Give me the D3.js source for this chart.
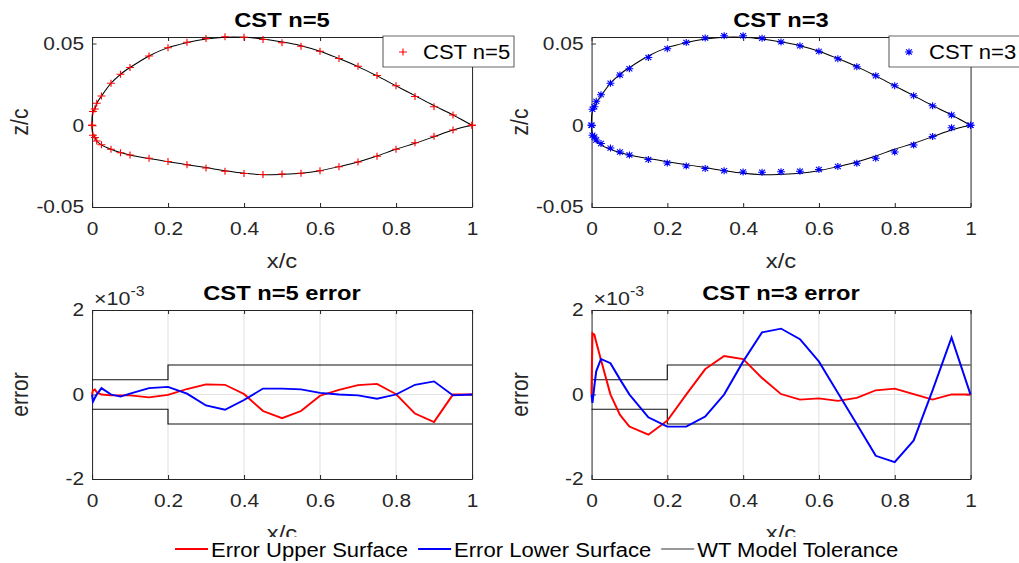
<!DOCTYPE html>
<html>
<head>
<meta charset="utf-8">
<script src="https://cdn.jsdelivr.net/npm/d3@7"></script>
<style>
body { margin: 0; background: #fff; }
svg { display: block; }
</style>
</head>
<body>
<div id="chart"></div>
<script>
// chordwise stations (x/c)
var xStations = [0, 0.0025, 0.0075, 0.0125, 0.025, 0.05, 0.075, 0.1, 0.15,
  0.2, 0.25, 0.3, 0.35, 0.4, 0.45, 0.5, 0.55, 0.6, 0.65, 0.7, 0.75, 0.8, 0.85, 0.9, 0.95, 1];

// original airfoil (z/c)
var zUpper = [0, 0.0083, 0.0099, 0.0134, 0.0179, 0.0257, 0.0312, 0.0353, 0.0424,
  0.0475, 0.0506, 0.0528, 0.0539, 0.0539, 0.0528, 0.0510, 0.0487, 0.0453, 0.0408, 0.0359, 0.0302, 0.0241, 0.0181, 0.0120, 0.0063, 0];
var zLower = [0, -0.0059, -0.0074, -0.0096, -0.0120, -0.0147, -0.0167, -0.0182, -0.0204,
  -0.0223, -0.0241, -0.0259, -0.0278, -0.0294, -0.0302, -0.0300, -0.0294, -0.0278, -0.0253, -0.0225, -0.0188, -0.0147, -0.0110, -0.0070, -0.0029, 0];

// fit errors, in units of 1e-3
var errUpper5 = [0, 0.10, 0.12, 0.05, 0.0, -0.02, -0.02, -0.02, -0.07,
  -0.01, 0.13, 0.24, 0.23, 0.01, -0.39, -0.56, -0.39, -0.03, 0.11, 0.22, 0.25, 0.01, -0.45, -0.65, 0, 0];
var errLower5 = [0, -0.17, -0.08, 0.0, 0.15, 0.0, -0.05, 0.02, 0.15,
  0.18, 0.02, -0.26, -0.36, -0.13, 0.14, 0.14, 0.12, 0.04, 0.0, -0.02, -0.10, 0.0, 0.23, 0.31, -0.02, 0];
var errUpper3 = [0, 1.45, 1.42, 1.24, 0.82, 0.0, -0.48, -0.76, -0.95,
  -0.62, 0.0, 0.6, 0.91, 0.84, 0.39, 0.01, -0.12, -0.09, -0.15, -0.08, 0.10, 0.14, 0.01, -0.12, 0, 0];
var errLower3 = [0, -0.2, 0.2, 0.55, 0.84, 0.74, 0.36, 0.0, -0.54,
  -0.76, -0.76, -0.52, 0.0, 0.78, 1.47, 1.56, 1.31, 0.78, 0.04, -0.70, -1.45, -1.60, -1.09, 0.1, 1.35, 0];

// wind tunnel model tolerance, in units of 1e-3
var tolX = [0, 0.2, 0.2, 1];
var tolUpper = [0.35, 0.35, 0.7, 0.7];
var tolLower = [-0.35, -0.35, -0.7, -0.7];

var xTicks = [0, 0.2, 0.4, 0.6, 0.8, 1];
var shapeYTicks = [-0.05, 0, 0.05];
var errYTicks = [-2e-3, 0, 2e-3];

var FONT = '"Liberation Sans", Arial, Helvetica, sans-serif';
var INK = '#262626';

// the original figure is stretched sideways, so draw in narrower units
var K = 1.13;
var svgWidth = 1019, svgHeight = 563;
function px(v) { return v / K; }

var svg = d3.select('#chart').append('svg')
  .attr('width', svgWidth)
  .attr('height', svgHeight)
  .attr('viewBox', `0 0 ${svgWidth / K} ${svgHeight}`)
  .attr('preserveAspectRatio', 'none')
  .style('font-family', FONT);

var cols = [{left: 92, right: 472}, {left: 591.5, right: 970.5}];
var shapeRow = {top: 37, bottom: 207};
var errRow = {top: 310, bottom: 479};

function fmtX(d) { return String(+d.toFixed(1)); }

function drawFrame(col, row, yDomain, yTicks, yFormat, grid) {
  var x = d3.scaleLinear().domain([0, 1]).range([px(col.left), px(col.right)]);
  var y = d3.scaleLinear().domain(yDomain).range([row.bottom, row.top]);
  var g = svg.append('g');

  if (grid) {
    g.selectAll(null).data(xTicks.slice(1, -1)).enter().append('line')
      .attr('x1', d => x(d)).attr('x2', d => x(d))
      .attr('y1', row.top).attr('y2', row.bottom)
      .attr('stroke', '#e3e3e3').attr('stroke-width', 1);
    g.append('line')
      .attr('x1', x(0)).attr('x2', x(1))
      .attr('y1', y(0)).attr('y2', y(0))
      .attr('stroke', '#e3e3e3').attr('stroke-width', 1);
  }

  var axes = [
    g.append('g').attr('transform', `translate(0,${row.bottom})`)
      .call(d3.axisBottom(x).tickValues(xTicks).tickFormat(fmtX).tickSizeInner(-4).tickSizeOuter(0).tickPadding(15)),
    g.append('g').attr('transform', `translate(0,${row.top})`)
      .call(d3.axisTop(x).tickValues(xTicks).tickFormat('').tickSizeInner(-4).tickSizeOuter(0)),
    g.append('g').attr('transform', `translate(${x(0)},0)`)
      .call(d3.axisLeft(y).tickValues(yTicks).tickFormat(yFormat).tickSizeInner(-4).tickSizeOuter(0).tickPadding(px(8))),
    g.append('g').attr('transform', `translate(${x(1)},0)`)
      .call(d3.axisRight(y).tickValues(yTicks).tickFormat('').tickSizeInner(-4).tickSizeOuter(0))
  ];
  axes.forEach(function(a) {
    a.attr('font-family', FONT).attr('font-size', 18.5).attr('color', INK);
    a.selectAll('path, line').attr('stroke-width', 0.9);
  });
  return {x: x, y: y, g: g};
}

function addTitle(col, yBase, text) {
  svg.append('text')
    .attr('x', px((col.left + col.right) / 2))
    .attr('y', yBase)
    .attr('text-anchor', 'middle')
    .attr('font-size', 21)
    .attr('font-weight', 'bold')
    .attr('fill', '#000')
    .text(text);
}

function addLabels(col, row, yText) {
  svg.append('text')
    .attr('x', px((col.left + col.right) / 2))
    .attr('y', row.bottom + 61)
    .attr('text-anchor', 'middle')
    .attr('font-size', 21)
    .attr('fill', INK)
    .text('x/c');
  svg.append('text')
    .attr('transform', `translate(${px(col.left - 64)},${(row.top + row.bottom) / 2}) rotate(-90)`)
    .attr('text-anchor', 'middle')
    .attr('font-size', 21)
    .attr('fill', INK)
    .text(yText);
}

var plusPath = 'M-3.5,0H3.5M0,-3.5V3.5';
var starPath = 'M-3.5,0H3.5M0,-3.5V3.5M-2.6,-2.6L2.6,2.6M-2.6,2.6L2.6,-2.6';

var fits = [
  {n: 5, errU: errUpper5, errL: errLower5, color: '#ff0000', marker: plusPath},
  {n: 3, errU: errUpper3, errL: errLower3, color: '#0000ff', marker: starPath}
];

fits.forEach(function(fit, i) {
  var col = cols[i];

  // ---- shape plot ----
  var sp = drawFrame(col, shapeRow, [-0.05, 0.054], shapeYTicks, d => String(d), false);
  addTitle(col, 27, 'CST n=' + fit.n);
  addLabels(col, shapeRow, 'z/c');

  var outline = xStations.map((x, k) => [x, zUpper[k]]).reverse()
    .concat(xStations.slice(1).map((x, k) => [x, zLower[k + 1]]));
  sp.g.append('path')
    .datum(outline)
    .attr('fill', 'none')
    .attr('stroke', '#000')
    .attr('stroke-width', 1)
    .attr('d', d3.line().x(d => sp.x(d[0])).y(d => sp.y(d[1])).curve(d3.curveCatmullRom.alpha(0.5)));

  var cst = xStations.map((x, k) => [x, zUpper[k] + fit.errU[k] * 1e-3])
    .concat(xStations.map((x, k) => [x, zLower[k] + fit.errL[k] * 1e-3]));
  sp.g.selectAll(null).data(cst).enter().append('path')
    .attr('transform', d => `translate(${sp.x(d[0])},${sp.y(d[1])})`)
    .attr('d', fit.marker)
    .attr('fill', 'none')
    .attr('stroke', fit.color)
    .attr('stroke-width', 1);

  // legend box inside the shape plot
  var lgLeft = i === 0 ? 383 : 889;
  var lgW = i === 0 ? 131 : 140;
  var lg = svg.append('g');
  lg.append('rect')
    .attr('x', px(lgLeft)).attr('y', 36)
    .attr('width', px(lgW)).attr('height', 31)
    .attr('fill', '#fff').attr('stroke', INK).attr('stroke-width', 0.7);
  lg.append('path')
    .attr('transform', `translate(${px(lgLeft + 20)},52)`)
    .attr('d', fit.marker)
    .attr('fill', 'none')
    .attr('stroke', fit.color)
    .attr('stroke-width', 1);
  lg.append('text')
    .attr('x', px(lgLeft + 40)).attr('y', 59)
    .attr('font-size', 19.5)
    .attr('fill', '#000')
    .text('CST n=' + fit.n);

  // ---- error plot ----
  var ep = drawFrame(col, errRow, [-2e-3, 2e-3], errYTicks, d => String(Math.round(d * 1000)), true);
  addTitle(col, 300, 'CST n=' + fit.n + ' error');
  addLabels(col, errRow, 'error');

  var exp = svg.append('text')
    .attr('x', px(col.left + 2)).attr('y', 305)
    .attr('font-size', 19)
    .attr('fill', INK)
    .text('\u00d710');
  exp.append('tspan').attr('dy', -9).attr('font-size', 14).text('-3');

  var lineE = d3.line().x(d => ep.x(d[0])).y(d => ep.y(d[1] * 1e-3));
  [tolUpper, tolLower].forEach(function(tol) {
    ep.g.append('path')
      .datum(tolX.map((x, k) => [x, tol[k]]))
      .attr('fill', 'none').attr('stroke', '#111').attr('stroke-width', 1)
      .attr('d', lineE);
  });
  ep.g.append('path')
    .datum(xStations.map((x, k) => [x, fit.errU[k]]))
    .attr('fill', 'none').attr('stroke', '#ff0000').attr('stroke-width', 1.8)
    .attr('d', lineE);
  ep.g.append('path')
    .datum(xStations.map((x, k) => [x, fit.errL[k]]))
    .attr('fill', 'none').attr('stroke', '#0000ff').attr('stroke-width', 1.8)
    .attr('d', lineE);
});

// ---- shared legend at the bottom ----
var legendItems = [
  {label: 'Error Upper Surface', color: '#ff0000'},
  {label: 'Error Lower Surface', color: '#0000ff'},
  {label: 'WT Model Tolerance', color: '#333'}
];
var bl = svg.append('g');
bl.append('rect')
  .attr('x', px(168)).attr('y', 537)
  .attr('width', px(735)).attr('height', 25)
  .attr('fill', '#fff');
var lx = px(175);
legendItems.forEach(function(it) {
  bl.append('line')
    .attr('x1', lx).attr('x2', lx + px(33))
    .attr('y1', 549).attr('y2', 549)
    .attr('stroke', it.color).attr('stroke-width', it.color === '#333' ? 1 : 1.8);
  var t = bl.append('text')
    .attr('x', lx + px(36)).attr('y', 557)
    .attr('font-size', 19.5)
    .attr('fill', '#000')
    .text(it.label);
  lx += px(36) + t.node().getComputedTextLength() + px(10);
});
</script>
</body>
</html>
